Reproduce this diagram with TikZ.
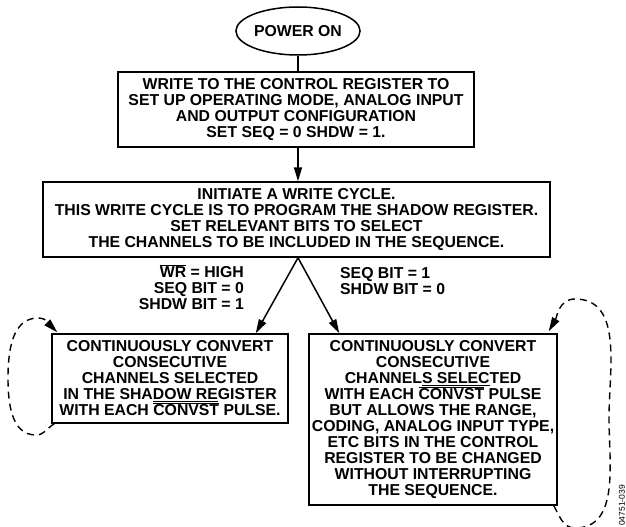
\documentclass[tikz,border=0pt]{standalone}
\usepackage{fontspec}
\setmainfont{Liberation Sans}
\usetikzlibrary{arrows.meta,shapes.geometric,calc}
\newcommand{\ovl}[1]{\smash{$\overline{\hbox{#1}}$}}
\newcommand{\unl}[1]{\smash{\underline{#1}}}
\begin{document}
\begin{tikzpicture}[x=1pt,y=-1pt,
  txt/.style={font=\bfseries\fontsize{15.8}{16}\selectfont},
  box/.style={txt,draw,line width=1.5pt,inner sep=0pt,align=center},
  arr/.style={line width=1.5pt,-{Triangle[length=14pt,width=8pt]}},
  dloop/.style={line width=1.4pt,dash pattern=on 7pt off 5pt,-{Triangle[length=14pt,width=8pt]}},
  lab/.style={txt,inner sep=0pt}]
\useasboundingbox (0,0) rectangle (626,527);
\node[box,ellipse,minimum width=121pt,minimum height=48pt] (po) at (298,31) {POWER ON};
\node[box,minimum width=356pt,minimum height=75pt] (b1) at (296,109.5)
 {WRITE TO THE CONTROL REGISTER TO\\SET UP OPERATING MODE, ANALOG INPUT\\AND OUTPUT CONFIGURATION\\SET SEQ = 0 SHDW = 1.};
\node[box,minimum width=507pt,minimum height=75pt] (b2) at (296.5,219.5)
 {INITIATE A WRITE CYCLE.\\THIS WRITE CYCLE IS TO PROGRAM THE SHADOW REGISTER.\\SET RELEVANT BITS TO SELECT\\THE CHANNELS TO BE INCLUDED IN THE SEQUENCE.};
\node[box,minimum width=236pt,minimum height=89pt] (lb) at (170,378.5)
 {CONTINUOUSLY CONVERT\\CONSECUTIVE\\CHANNELS SELECTED\\IN THE SHA\unl{DOW RE}GISTER\\WITH EACH \ovl{CONVST} PULSE.};
\node[box,minimum width=248pt,minimum height=171pt] (rb) at (433,419.5)
 {CONTINUOUSLY CONVERT\\CONSECUTIVE\\CHANNEL\unl{S SELEC}TED\\WITH EACH \ovl{CONVST} PULSE\\BUT ALLOWS THE RANGE,\\CODING, ANALOG INPUT TYPE,\\ETC BITS IN THE CONTROL\\REGISTER TO BE CHANGED\\WITHOUT INTERRUPTING\\THE SEQUENCE.};
\node[lab,anchor=north east,align=right] (ll) at (244,266.5) {\ovl{WR} = HIGH\\SEQ BIT = 0\\SHDW BIT = 1};
\node[lab,anchor=north west,align=left] (rl) at (340,267.5) {SEQ BIT = 1\\SHDW BIT = 0};
\node[rotate=90,anchor=west,inner sep=0pt,font=\fontsize{8.5}{10}\selectfont] (fig) at (622,526) {04751-039};
\coordinate (apex) at (po.south |- b2.south);
\draw[line width=1.5pt] (po.south) -- (po.south |- b1.north);
\draw[arr] (po.south |- b1.south) -- (po.south |- b2.north);
\draw[arr] (apex) -- ($(lb.north east)+(-33,0)$);
\draw[arr] (apex) -- ($(rb.north west)+(31,0)$);
\draw[dloop] ($(lb.south west)+(3,0)$) to[out=210,in=0] (36,435) to[out=180,in=270] (8,378)
  to[out=90,in=180] (38,318) to[out=0,in=135] ($(lb.north west)+(6,-1)$);
\draw[dloop] ($(rb.south east)+(-4,0)$) to[out=-60,in=180] (575,528) to[out=0,in=270] (609,418)
  to[out=90,in=0] (575,299) to[out=180,in=60] ($(rb.north east)+(-9,-2)$);
\end{tikzpicture}
\end{document}
